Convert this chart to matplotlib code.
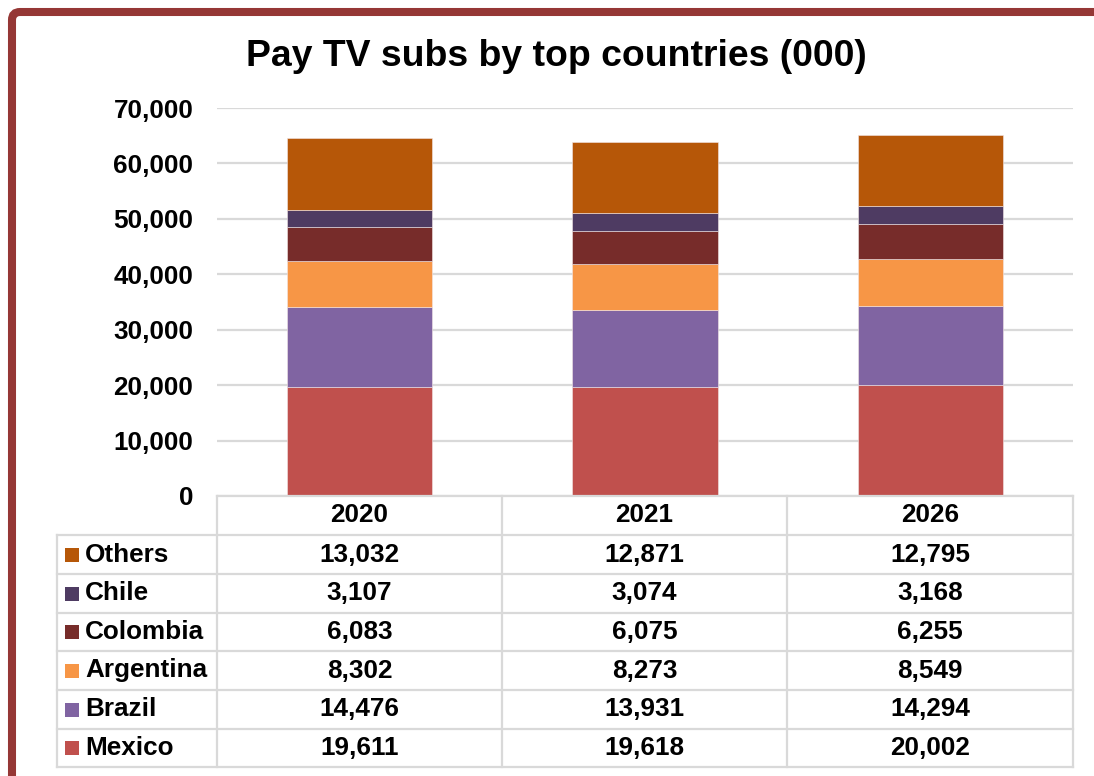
import matplotlib
matplotlib.use("Agg")
from matplotlib import pyplot as plt
from matplotlib.patches import FancyBboxPatch, Rectangle
from matplotlib.lines import Line2D
from matplotlib.transforms import IdentityTransform

plt.rcParams['font.family'] = ['Liberation Sans', 'DejaVu Sans']
plt.rcParams['font.weight'] = 'bold'

years = ["2020", "2021", "2026"]
countries = ["Mexico", "Brazil", "Argentina", "Colombia", "Chile", "Others"]
mexico = [19611, 19618, 20002]
brazil = [14476, 13931, 14294]
argentina = [8302, 8273, 8549]
colombia = [6083, 6075, 6255]
chile = [3107, 3074, 3168]
others = [13032, 12871, 12795]
colors = ["#C0504D", "#8064A2", "#F79646", "#772C2A", "#4E3B62", "#B65708"]

series = [mexico, brazil, argentina, colombia, chile, others]

W, H = 1094, 776
fig = plt.figure(figsize=(W / 100, H / 100), dpi=100)
fs = 18.8


def fx(px):
    return px / W


def fy(py):
    return 1 - py / H


# frame around the chart
frame = FancyBboxPatch((12, -60), 1300, H - 12 + 60,
                       boxstyle="round,pad=0,rounding_size=8",
                       transform=IdentityTransform(), facecolor="white",
                       edgecolor="#953735", linewidth=5.8, zorder=-5)
fig.patches.append(frame)

ax_left, ax_right, ax_top, ax_bot = 217, 1073, 108, 496
ax = fig.add_axes([fx(ax_left), fy(ax_bot), fx(ax_right - ax_left), fy(ax_top) - fy(ax_bot)])
ax.set_facecolor("none")

x = range(len(years))
bottom = [0] * len(years)
for vals, c in zip(series, colors):
    ax.bar(x, vals, width=0.51, bottom=bottom, color=c, edgecolor="#f2e6e6",
           linewidth=0.4, zorder=3)
    bottom = [b + v for b, v in zip(bottom, vals)]

ax.set_xlim(-0.5, len(years) - 0.5)
ax.set_ylim(0, 70000)
ax.set_yticks(range(0, 70001, 10000))
ax.set_yticklabels([f"{v:,}" for v in range(0, 70001, 10000)], fontsize=fs, fontweight="bold")
ax.tick_params(axis="y", length=0, pad=17)
ax.set_xticks([])
ax.grid(axis="y", color="#D9D9D9", linewidth=1.6, zorder=0)
for s in ax.spines.values():
    s.set_visible(False)

# title
fig.text(fx(556), fy(56), "Pay TV subs by top countries (000)", ha="center", va="center",
         fontsize=26.9, fontweight="bold")

# data table below the chart
col_x = [217, 502, 787, 1073]
leg_left = 57
row_y = [496, 535, 574, 613, 651, 690, 729, 767]
lc = "#D9D9D9"
lw = 1.6


def hline(x0, x1, y):
    fig.add_artist(Line2D([fx(x0), fx(x1)], [fy(y), fy(y)], color=lc, linewidth=lw))


def vline(x, y0, y1):
    fig.add_artist(Line2D([fx(x), fx(x)], [fy(y0), fy(y1)], color=lc, linewidth=lw))


hline(col_x[0], col_x[-1], row_y[0])
for y in row_y[1:]:
    hline(leg_left, col_x[-1], y)
for xc in col_x:
    vline(xc, row_y[0], row_y[-1])
vline(leg_left, row_y[1], row_y[-1])

for i, yr in enumerate(years):
    xc = (col_x[i] + col_x[i + 1]) / 2
    fig.text(fx(xc), fy((row_y[0] + row_y[1]) / 2), yr, ha="center", va="center",
             fontsize=fs, fontweight="bold")

# table rows from top: Others ... Mexico
for r, k in enumerate(reversed(range(len(countries)))):
    yc = (row_y[r + 1] + row_y[r + 2]) / 2
    fig.patches.append(Rectangle((fx(65), fy(yc + 7)), fx(14), fy(yc - 7) - fy(yc + 7),
                                 transform=fig.transFigure, facecolor=colors[k],
                                 edgecolor="none"))
    fig.text(fx(85), fy(yc), countries[k], ha="left", va="center",
             fontsize=fs, fontweight="bold")
    for i in range(len(years)):
        xc = (col_x[i] + col_x[i + 1]) / 2
        fig.text(fx(xc), fy(yc), f"{series[k][i]:,}", ha="center", va="center",
                 fontsize=fs, fontweight="bold")

plt.savefig("out.png", dpi=100)
